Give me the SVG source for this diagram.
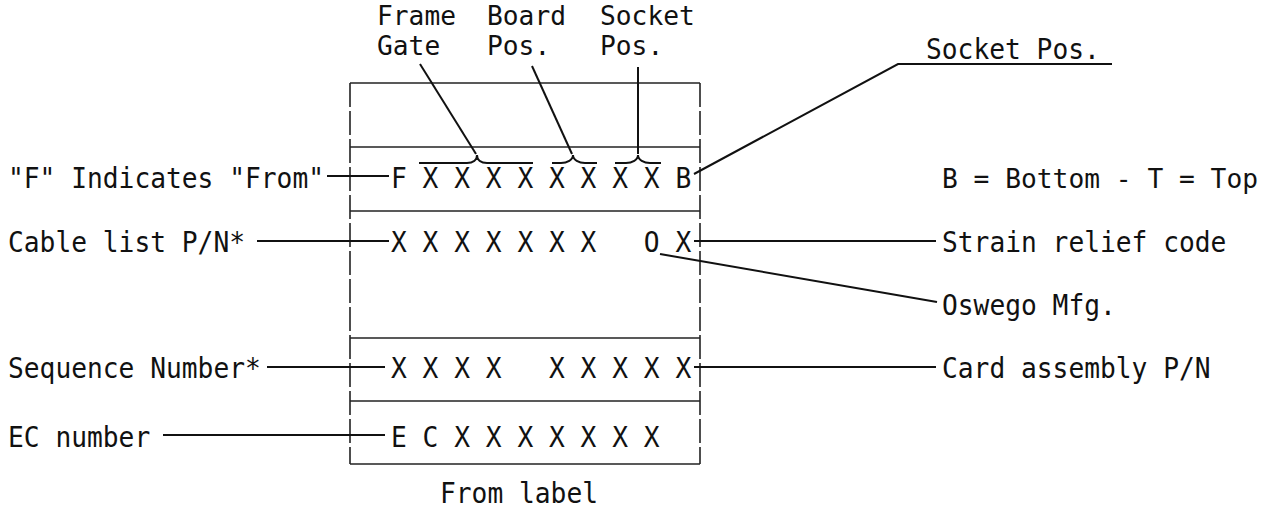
<svg xmlns="http://www.w3.org/2000/svg" width="1285" height="511" viewBox="0 0 1285 511">
<style>
text{font-family:"DejaVu Sans Mono","Liberation Mono",monospace;font-size:29px;fill:#111}
.t{font-size:26px}
.r{font-size:27px}
.h{stroke:#222;stroke-width:1.6;fill:none}
.d{stroke:#222;stroke-width:1.6;fill:none;stroke-dasharray:24 4}
.c{stroke:#111;stroke-width:2;fill:none}
</style>
<rect width="1285" height="511" fill="#fff"/>
<g id="label-box">
<line class="h" x1="350" y1="83" x2="700" y2="83"/>
<line class="h" x1="350" y1="147" x2="700" y2="147"/>
<line class="h" x1="350" y1="211" x2="700" y2="211"/>
<line class="h" x1="350" y1="338" x2="700" y2="338"/>
<line class="h" x1="350" y1="401" x2="700" y2="401"/>
<line class="h" x1="350" y1="464" x2="700" y2="464"/>
<line class="d" x1="350" y1="83" x2="350" y2="464"/>
<line class="d" x1="700" y1="83" x2="700" y2="464"/>
<text x="440" y="503" textLength="158" lengthAdjust="spacingAndGlyphs">From label</text>
</g>
<g id="row-from">
<text x="391" y="188" xml:space="preserve" textLength="300.2" lengthAdjust="spacingAndGlyphs">F X X X X X X X X B</text>
</g>
<g id="row-cable">
<text x="391" y="252" xml:space="preserve" textLength="300.2" lengthAdjust="spacingAndGlyphs">X X X X X X X   O X</text>
</g>
<g id="row-sequence">
<text x="391" y="378" xml:space="preserve" textLength="300.2" lengthAdjust="spacingAndGlyphs">X X X X   X X X X X</text>
</g>
<g id="row-ec">
<text x="391" y="447" xml:space="preserve" textLength="268.6" lengthAdjust="spacingAndGlyphs">E C X X X X X X X</text>
</g>
<g id="top-labels">
<text class="t" x="377" y="25" textLength="79" lengthAdjust="spacingAndGlyphs">Frame</text>
<text class="t" x="377" y="55" textLength="63.2" lengthAdjust="spacingAndGlyphs">Gate</text>
<text class="t" x="487" y="25" textLength="79" lengthAdjust="spacingAndGlyphs">Board</text>
<text class="t" x="487" y="55" textLength="63.2" lengthAdjust="spacingAndGlyphs">Pos.</text>
<text class="t" x="600" y="25" textLength="94.8" lengthAdjust="spacingAndGlyphs">Socket</text>
<text class="t" x="600" y="55" textLength="63.2" lengthAdjust="spacingAndGlyphs">Pos.</text>
</g>
<g id="left-labels">
<text x="8" y="188" textLength="316" lengthAdjust="spacingAndGlyphs">"F" Indicates "From"</text>
<text x="8" y="252" textLength="237" lengthAdjust="spacingAndGlyphs">Cable list P/N*</text>
<text x="8" y="378" textLength="252.8" lengthAdjust="spacingAndGlyphs">Sequence Number*</text>
<text x="8" y="447" textLength="142.2" lengthAdjust="spacingAndGlyphs">EC number</text>
</g>
<g id="right-labels">
<text x="926" y="59" textLength="173.8" lengthAdjust="spacingAndGlyphs">Socket Pos.</text>
<text class="r" x="942" y="188" textLength="316" lengthAdjust="spacingAndGlyphs">B = Bottom - T = Top</text>
<text x="942" y="252" textLength="284.4" lengthAdjust="spacingAndGlyphs">Strain relief code</text>
<text x="942" y="315" textLength="173.8" lengthAdjust="spacingAndGlyphs">Oswego Mfg.</text>
<text x="942" y="378" textLength="268.6" lengthAdjust="spacingAndGlyphs">Card assembly P/N</text>
</g>
<g id="connectors">
<path class="c" d="M419 163 H467 C473 163 477 160 477 155 C477 160 481 163 487 163 H533"/>
<path class="c" d="M552 163 H561 C567 163 573 160 573 155 C573 160 579 163 585 163 H597"/>
<path class="c" d="M615 163 H626 C632 163 638 160 638 155 C638 160 644 163 650 163 H661"/>
<line class="c" x1="420" y1="64" x2="476" y2="154"/>
<line class="c" x1="532" y1="66" x2="572" y2="154"/>
<line class="c" x1="638" y1="67" x2="638" y2="154"/>
<polyline class="c" points="694,174 898,64 1112,64"/>
<line class="c" x1="327" y1="176" x2="389" y2="176"/>
<line class="c" x1="257" y1="241" x2="389" y2="241"/>
<line class="c" x1="267" y1="367" x2="385" y2="367"/>
<line class="c" x1="163" y1="435" x2="385" y2="435"/>
<line class="c" x1="694" y1="241" x2="936" y2="241"/>
<line class="c" x1="660" y1="254" x2="937" y2="302"/>
<line class="c" x1="694" y1="367" x2="936" y2="367"/>
</g>
</svg>
